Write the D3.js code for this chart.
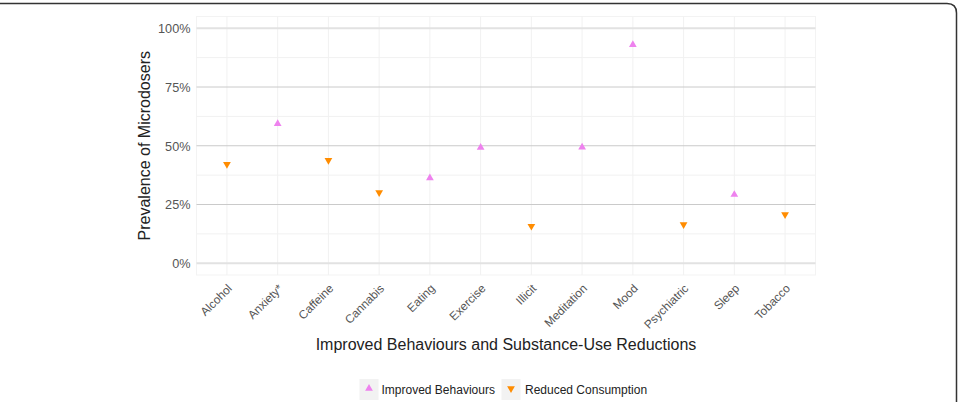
<!DOCTYPE html>
<html><head><meta charset="utf-8">
<script src="https://cdnjs.cloudflare.com/ajax/libs/d3/7.8.5/d3.min.js"></script>
<style>
body{margin:0;background:#fff;}
svg{display:block;font-family:"Liberation Sans",Arial,sans-serif;}
</style></head>
<body><svg id="c" width="959" height="402"></svg>
<script>
const categories = ["Alcohol","Anxiety*","Caffeine","Cannabis","Eating","Exercise","Illicit","Meditation","Mood","Psychiatric","Sleep","Tobacco"];
const seriesType = ["Reduced Consumption","Improved Behaviours","Reduced Consumption","Reduced Consumption","Improved Behaviours","Improved Behaviours","Reduced Consumption","Improved Behaviours","Improved Behaviours","Reduced Consumption","Improved Behaviours","Reduced Consumption"];
const values = [42.1,59.4,43.8,30.1,36.3,49.3,15.8,49.4,93.0,16.5,29.2,20.7];
const yTicks = [0,25,50,75,100];
const yMinor = [12.5,37.5,62.5,87.5];
const legendItems = ["Improved Behaviours","Reduced Consumption"];
const colors = {"Improved Behaviours":"#EE82EE","Reduced Consumption":"#FF8C00"};

const svg = d3.select("#c");
const L=196.5, R=815.5, T=16.5, B=275;
const y = d3.scaleLinear().domain([-5,105]).range([B,T]);
const x = d3.scalePoint().domain(categories).range([L,R]).padding(0.6);

// frame
svg.append("path").attr("d","M0,3.5 H947 Q956.5,3.5 956.5,13 V402").attr("fill","none").attr("stroke","#333").attr("stroke-width",1.5);

const g = svg.append("g");
g.append("rect").attr("x",L).attr("y",T).attr("width",R-L).attr("height",B-T).attr("fill","none").attr("stroke","#f3f3f3").attr("stroke-width",1);
g.selectAll(".minor").data(yMinor).join("line").attr("x1",L).attr("x2",R).attr("y1",d=>y(d)).attr("y2",d=>y(d)).attr("stroke","#f1f1f1").attr("stroke-width",1);
g.selectAll(".vx").data(categories).join("line").attr("x1",d=>x(d)).attr("x2",d=>x(d)).attr("y1",T).attr("y2",B).attr("stroke","#f1f1f1").attr("stroke-width",1);
g.selectAll(".major").data(yTicks).join("line").attr("x1",L).attr("x2",R).attr("y1",d=>y(d)).attr("y2",d=>y(d))
 .attr("stroke",d=>(d===0||d===100)?"#e2e2e2":"#cacaca").attr("stroke-width",d=>(d===0||d===100)?2:1);

// y axis labels
const yAxis = d3.axisLeft(y).tickValues(yTicks).tickFormat(d=>d+"%").tickSize(0).tickPadding(6);
const ya = svg.append("g").attr("transform",`translate(${L},0)`).call(yAxis);
ya.select(".domain").remove();
ya.selectAll("text").attr("font-size",12.7).attr("fill","#555").attr("font-family","Liberation Sans,Arial,sans-serif").attr("dy","0.35em");

// x axis labels
const xAxis = d3.axisBottom(x).tickSize(0).tickPadding(0);
const xa = svg.append("g").attr("transform",`translate(0,${B})`).call(xAxis);
xa.select(".domain").remove();
xa.selectAll("text").attr("font-size",11.8).attr("fill","#555").attr("font-family","Liberation Sans,Arial,sans-serif")
 .attr("text-anchor","end").attr("dy",null).attr("y",0)
 .attr("transform","translate(-1,8) rotate(-45)").attr("dominant-baseline","hanging");

// titles
svg.append("text").attr("x",(L+R)/2).attr("y",350).attr("text-anchor","middle").attr("font-size",16).attr("fill","#222").text("Improved Behaviours and Substance-Use Reductions");
svg.append("text").attr("transform",`translate(150,${(T+B)/2}) rotate(-90)`).attr("text-anchor","middle").attr("font-size",16).attr("fill","#222").text("Prevalence of Microdosers");

// points
const tri = d3.symbol().type(d3.symbolTriangle).size(26);
g.selectAll(".pt").data(categories).join("path")
 .attr("d",tri)
 .attr("transform",(d,i)=>`translate(${x(d)},${y(values[i])}) rotate(${seriesType[i]==="Reduced Consumption"?180:0})`)
 .attr("fill",(d,i)=>colors[seriesType[i]]);

// legend
const lg = svg.append("g");
const legX = [359.5, 501.5];
const legTX = [381.5, 525];
legendItems.forEach((s,i)=>{
  const gx = legX[i];
  lg.append("rect").attr("x",gx).attr("y",379).attr("width",19).attr("height",21).attr("fill","#f2f2f2");
  lg.append("path").attr("d",tri).attr("transform",`translate(${gx+9.5},388.5) rotate(${i===1?180:0})`).attr("fill",colors[s]);
  lg.append("text").attr("x",legTX[i]).attr("y",390).attr("dy","0.35em").attr("font-size",12).attr("fill","#222").text(s);
});
</script></body></html>
